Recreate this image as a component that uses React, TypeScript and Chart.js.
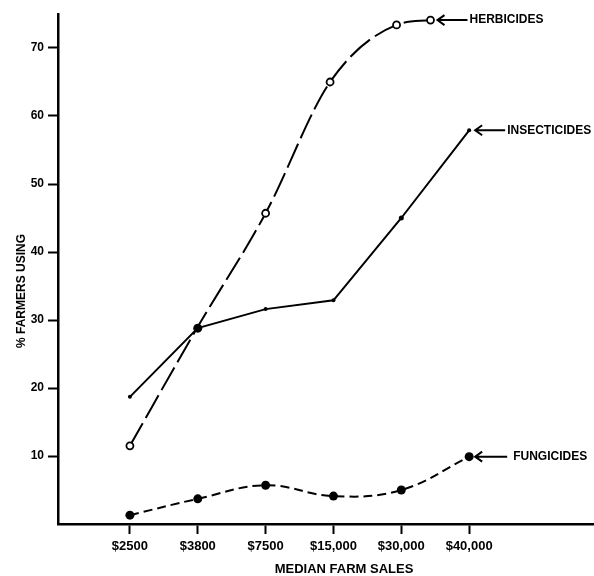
import React, { useEffect, useRef } from 'react';
import { Chart, registerables } from 'chart.js';
Chart.register(...registerables);

const categories = ['$2500', '$3800', '$7500', '$15,000', '$30,000', '$40,000'];
const categoryIndex = [0, 1, 2, 3, 4, 5];
const herbicidesX = [0, 1, 2, 2.95, 3.93, 4.43];
const herbicides = [11.5, 29, 45.7, 65, 73.4, 74.1];
const insecticides = [18.7, 28.8, 31.6, 32.9, 45, 57.9];
const fungicides = [1.3, 3.7, 5.7, 4.1, 5, 9.9];
const yTicks = [10, 20, 30, 40, 50, 60, 70];
const seriesLabels = ['HERBICIDES', 'INSECTICIDES', 'FUNGICIDES'];
const xTitle = 'MEDIAN FARM SALES';
const yTitle = '% FARMERS USING';

const FONT = '"Liberation Sans", Arial, sans-serif';

const annotPlugin = {
  id: 'annot',
  afterDraw(chart: any) {
    const ctx = chart.ctx as CanvasRenderingContext2D;
    ctx.save();
    ctx.fillStyle = '#000';
    ctx.strokeStyle = '#000';
    ctx.lineWidth = 2;
    ctx.font = `bold 12px ${FONT}`;
    ctx.textBaseline = 'middle';
    ctx.textAlign = 'left';
    const offs = [
      [7, 30, 2],
      [6, 30, 2],
      [6, 32, 6],
    ];
    chart.data.datasets.forEach((ds: any, i: number) => {
      const meta = chart.getDatasetMeta(i);
      const p = meta.data[meta.data.length - 1];
      const [o, len, gap] = offs[i];
      const hx = p.x + o;
      const y = p.y;
      ctx.beginPath();
      ctx.moveTo(hx, y);
      ctx.lineTo(hx + len, y);
      ctx.moveTo(hx + 7, y - 5);
      ctx.lineTo(hx, y);
      ctx.lineTo(hx + 7, y + 5);
      ctx.stroke();
      ctx.fillText(seriesLabels[i], hx + len + gap, y);
    });
    ctx.font = `bold 13px ${FONT}`;
    ctx.textAlign = 'center';
    ctx.fillText(xTitle, 344, 569);
    ctx.save();
    ctx.translate(22, 291);
    ctx.rotate(-Math.PI / 2);
    ctx.font = `bold 12px ${FONT}`;
    ctx.fillText(yTitle, 0, 0);
    ctx.restore();
    ctx.restore();
  },
};

export default function App() {
  const ref = useRef<HTMLCanvasElement>(null);
  useEffect(() => {
    if (!ref.current) return;
    const chart = new Chart(ref.current, {
      type: 'line',
      data: {
        datasets: [
          {
            label: seriesLabels[0],
            data: herbicidesX.map((x, i) => ({ x, y: herbicides[i] })),
            borderColor: '#000',
            borderWidth: 2,
            borderDash: [26, 6],
            cubicInterpolationMode: 'monotone',
            pointStyle: 'circle',
            pointRadius: [3.5, 0, 3.5, 3.5, 3.5, 3.5],
            pointBackgroundColor: '#fff',
            pointBorderColor: '#000',
            pointBorderWidth: 1.8,
            fill: false,
          },
          {
            label: seriesLabels[1],
            data: categoryIndex.map((x, i) => ({ x, y: insecticides[i] })),
            borderColor: '#000',
            borderWidth: 2,
            tension: 0,
            pointRadius: [2, 4.5, 2, 2, 2.5, 2],
            pointBackgroundColor: '#000',
            pointBorderColor: '#000',
            pointBorderWidth: 0,
            fill: false,
          },
          {
            label: seriesLabels[2],
            data: categoryIndex.map((x, i) => ({ x, y: fungicides[i] })),
            borderColor: '#000',
            borderWidth: 2,
            borderDash: [9, 5],
            tension: 0.4,
            pointRadius: 4.5,
            pointBackgroundColor: '#000',
            pointBorderColor: '#000',
            pointBorderWidth: 0,
            fill: false,
          },
        ],
      } as any,
      options: {
        animation: false,
        responsive: false,
        devicePixelRatio: 1,
        layout: { autoPadding: false, padding: { top: 14, left: 0, right: 0, bottom: 0 } },
        plugins: { legend: { display: false }, tooltip: { enabled: false } },
        clip: false as any,
        scales: {
          x: {
            type: 'linear',
            min: -1.06,
            max: 6.84,
            afterBuildTicks: (s: any) => {
              s.ticks = categoryIndex.map((v) => ({ value: v }));
            },
            afterFit: (s: any) => {
              s.height = 52;
            },
            ticks: {
              color: '#000',
              font: { family: FONT, size: 13, weight: 'bold' },
              padding: 5,
              maxRotation: 0,
              autoSkip: false,
              callback: (v: any) => categories[v] ?? '',
            },
            grid: {
              drawOnChartArea: false,
              drawTicks: true,
              tickLength: 10,
              tickWidth: 2,
              color: '#000',
            },
            border: { display: true, color: '#000', width: 2.5 },
          },
          y: {
            type: 'linear',
            min: 0,
            max: 75,
            afterBuildTicks: (s: any) => {
              s.ticks = yTicks.map((v) => ({ value: v }));
            },
            afterFit: (s: any) => {
              s.width = 58;
            },
            ticks: {
              color: '#000',
              font: { family: FONT, size: 12, weight: 'bold' },
              padding: 4,
              autoSkip: false,
            },
            grid: {
              drawOnChartArea: false,
              drawTicks: true,
              tickLength: 10,
              tickWidth: 2,
              color: '#000',
            },
            border: { display: true, color: '#000', width: 2.5 },
          },
        },
      } as any,
      plugins: [annotPlugin],
    });
    return () => chart.destroy();
  }, []);
  return (
    <div style={{ position: 'absolute', left: 0, top: 0, width: 594, height: 576, background: '#fff' }}>
      <canvas ref={ref} width={594} height={576} style={{ width: 594, height: 576 }} />
    </div>
  );
}
